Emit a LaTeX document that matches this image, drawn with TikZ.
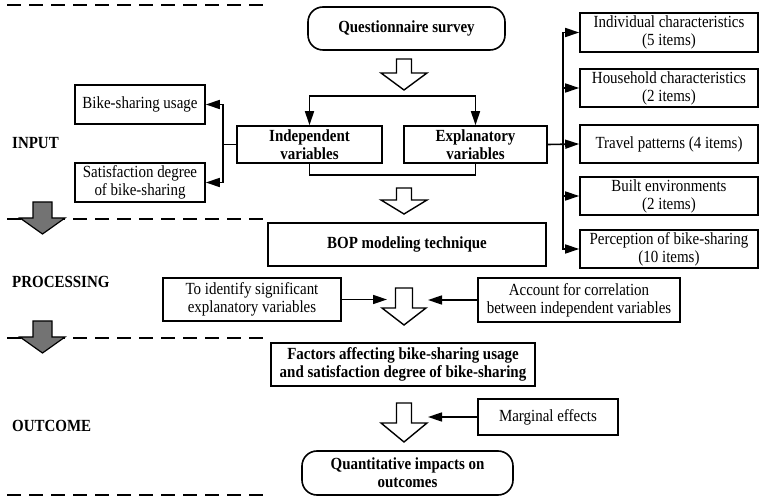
\documentclass[tikz,border=0pt]{standalone}
\usepackage{fontspec}
\setmainfont{Liberation Serif}[FakeStretch=0.88]
\usetikzlibrary{arrows.meta,calc}
\definecolor{darkgr}{RGB}{115,115,115}
\newcommand\blockarrow[7]{%
  \draw[#7] (#1-#5,#2) -- (#1+#5,#2) -- (#1+#5,#3) -- (#1+#6,#3) -- (#1,#4)
    -- (#1-#6,#3) -- (#1-#5,#3) -- cycle;}
\begin{document}
\begin{tikzpicture}[x=1pt,y=-1pt,
  txt/.style={font=\fontsize{17}{18}\selectfont},
  box/.style={draw,line width=1.6pt,align=center,inner sep=0pt,txt},
  bbox/.style={box,font=\fontsize{17}{18}\selectfont\bfseries},
  rbox/.style={bbox,rounded corners=15pt},
  arr/.style={line width=1.6pt,-{Triangle[length=14pt,width=9pt]}},
  arrboth/.style={line width=1.6pt,{Triangle[length=14pt,width=9pt]}-{Triangle[length=14pt,width=9pt]}},
  ln/.style={line width=1.6pt},
  sep/.style={line width=1.1pt,dash pattern=on 14pt off 8pt},
  lab/.style={anchor=west,inner sep=0pt,font=\fontsize{17}{18}\selectfont\bfseries},
  oarrow/.style={draw,line width=1.4pt,fill=white,line join=miter},
  garrow/.style={draw,line width=1.2pt,fill=darkgr,line join=miter}]
\useasboundingbox (0,0) rectangle (766,502);

% separators
\draw[sep] (7,5) -- (268,5);
\draw[sep] (7,219) -- (268,219);
\draw[sep] (7,338) -- (268,338);
\draw[sep] (7,495) -- (268,495);

% stage labels
\node[lab] (linput) at (12,143) {INPUT};
\node[lab] (lproc) at (12,282) {PROCESSING};
\node[lab] (lout) at (12,426) {OUTCOME};

% gray stage arrows
\blockarrow{42.5}{202}{218}{234}{9.5}{22.5}{garrow}
\blockarrow{42.5}{321}{337}{353}{9.5}{22.5}{garrow}

% main nodes
\node[rbox,minimum width=197pt,minimum height=43pt] (qs) at (406.5,28.5) {Questionnaire survey};
\node[bbox,minimum width=145pt,minimum height=37pt] (ind) at (309.5,144.5) {Independent\\variables};
\node[bbox,minimum width=143pt,minimum height=37pt] (exp) at (475.5,144.5) {Explanatory\\variables};
\node[box,minimum width=130pt,minimum height=39pt] (bsu) at (140,104.5) {Bike-sharing usage};
\node[box,minimum width=130pt,minimum height=39pt] (sat) at (140,182.5) {Satisfaction degree\\of bike-sharing};
\node[bbox,minimum width=278pt,minimum height=43pt] (bop) at (407,244.5) {BOP modeling technique};

\node[box,minimum width=178pt,minimum height=39pt] (r1) at (669,32.5) {Individual characteristics\\(5 items)};
\node[box,minimum width=178pt,minimum height=38pt] (r2) at (669,88) {Household characteristics\\(2 items)};
\node[box,minimum width=178pt,minimum height=38pt] (r3) at (669,144) {Travel patterns (4 items)};
\node[box,minimum width=178pt,minimum height=38pt] (r4) at (669,196) {Built environments\\(2 items)};
\node[box,minimum width=178pt,minimum height=38pt] (r5) at (669,249) {Perception of bike-sharing\\(10 items)};

\node[box,minimum width=178pt,minimum height=43pt] (tid) at (252,299.5) {To identify significant\\explanatory variables};
\node[box,minimum width=202pt,minimum height=44pt] (acc) at (579,300) {Account for correlation\\between independent variables};
\node[bbox,minimum width=264pt,minimum height=43pt] (fac) at (403,364.5) {Factors affecting bike-sharing usage\\and satisfaction degree of bike-sharing};
\node[box,minimum width=140pt,minimum height=36pt] (mar) at (548,417) {Marginal effects};
\node[rbox,minimum width=211pt,minimum height=44pt] (qnt) at (407.5,473) {Quantitative impacts on\\outcomes};

% hollow flow arrows
\blockarrow{404}{59}{73}{90}{7.5}{23}{oarrow}
\blockarrow{404}{188}{200}{214}{7.5}{23}{oarrow}
\blockarrow{404}{288}{308}{325}{8.5}{22}{oarrow}
\blockarrow{404}{403}{423}{442}{7.5}{23}{oarrow}

\coordinate (tipL3) at (387,299.5);
\coordinate (tipR3) at (428,300);
\coordinate (tipR4) at (428,417);

% connectors
\draw[arrboth] (ind.north) -- ++(0,-29) -| (exp.north);
\draw[ln] (ind.south) -- ++(0,11) -| (exp.south);
\draw[arr] (ind.west) -- ++(-13,0) |- (bsu.east);
\draw[arr] (ind.west) -- ++(-13,0) |- (sat.east);
\draw[arr] (exp.east) -- ++(15,0) |- (r1.west);
\draw[arr] (exp.east) -- ++(15,0) |- (r2.west);
\draw[arr] (exp.east) -- (r3.west);
\draw[arr] (exp.east) -- ++(15,0) |- (r4.west);
\draw[arr] (exp.east) -- ++(15,0) |- (r5.west);
\draw[arr] (tid.east) -- (tipL3);
\draw[arr] (acc.west) -- (tipR3);
\draw[arr] (mar.west) -- (tipR4);
\end{tikzpicture}
\end{document}
